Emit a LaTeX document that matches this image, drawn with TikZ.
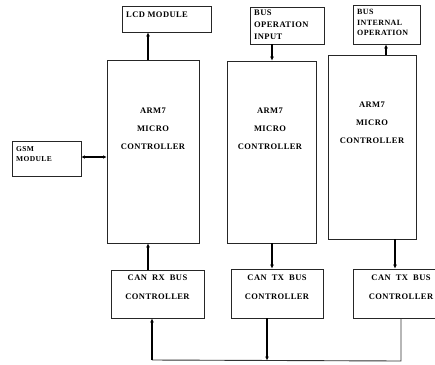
\documentclass[tikz,border=0pt]{standalone}
\usepackage{fontspec}
\setmainfont[LetterSpace=5]{Liberation Serif}
\usetikzlibrary{arrows.meta}
\begin{document}
\begin{tikzpicture}[x=1pt,y=-1pt,
  box/.style={draw=black!85,line width=0.8pt,inner sep=0pt,minimum width=#1},
  lbl/.style={inner sep=0pt,font=\bfseries\fontsize{8.5}{18}\selectfont,align=center},
  lbll/.style={inner sep=0pt,anchor=west,align=left},
  arr/.style={line width=1.2pt,-{Latex[length=4pt,width=4pt]}},
  dbl/.style={line width=1.2pt,{Latex[length=3.5pt,width=3.5pt]}-{Latex[length=3.5pt,width=3.5pt]}},
  busl/.style={line width=0.9pt,draw=black!80}]
\useasboundingbox (0,0) rectangle (435,364);
\clip (0,0) rectangle (435,364);
% boxes
\node[box=89pt,minimum height=26pt] (lcd) at (166.5,19) {};
\node[box=69pt,minimum height=35pt] (gsm) at (46.5,158.5) {};
\node[box=92pt,minimum height=183pt] (arm1) at (153,151.5) {};
\node[box=74pt,minimum height=37pt] (boi) at (287,25.5) {};
\node[box=89pt,minimum height=182pt] (arm2) at (271.5,152) {};
\node[box=67pt,minimum height=39pt] (bio) at (386.5,24.5) {};
\node[box=88pt,minimum height=184pt] (arm3) at (372,147) {};
\node[box=93pt,minimum height=48pt] (rx) at (157.5,294) {};
\node[box=92pt,minimum height=49pt] (tx1) at (277,293.5) {};
\node[box=96pt,minimum height=49pt] (tx2) at (401,293.5) {};
% texts
\node[lbll,font=\bfseries\fontsize{8.5}{10}\selectfont] (tlcd) at (126,15) {LCD MODULE};
\node[lbll,font=\bfseries\fontsize{7.5}{10}\selectfont] (tgsm) at (16,154) {GSM\\MODULE};
\node[lbll,font=\bfseries\fontsize{8.5}{12}\selectfont] (tboi) at (254,25) {BUS\\OPERATION\\INPUT};
\node[lbll,font=\bfseries\fontsize{8}{10.5}\selectfont] (tbio) at (357,22.5) {BUS\\INTERNAL\\OPERATION};
\node[lbl] (ta1) at (153,129) {ARM7\\MICRO\\CONTROLLER};
\node[lbl] (ta2) at (270,129) {ARM7\\MICRO\\CONTROLLER};
\node[lbl] (ta3) at (372,123) {ARM7\\MICRO\\CONTROLLER};
\node[lbl,font=\bfseries\fontsize{8.5}{19}\selectfont] (trx) at (157.5,287.5) {CAN\ \ RX\ \ BUS\\CONTROLLER};
\node[lbl,font=\bfseries\fontsize{8.5}{19}\selectfont] (ttx1) at (277,287.5) {CAN\ \ TX\ \ BUS\\CONTROLLER};
\node[lbl,font=\bfseries\fontsize{8.5}{19}\selectfont] (ttx2) at (401,287.5) {CAN\ \ TX\ \ BUS\\CONTROLLER};
% coordinates for connectors
\coordinate (c1) at (148,0);
\coordinate (c2) at (272,0);
\coordinate (c3) at (386,0);
\coordinate (c4) at (395,0);
\coordinate (bl) at (152,360);
\coordinate (bm) at (267,360.5);
\coordinate (br) at (401,361);
\coordinate (g) at (0,157);
% connectors
\draw[arr] (arm1.north -| c1) -- (lcd.south -| c1);
\draw[arr] (rx.north -| c1) -- (arm1.south -| c1);
\draw[dbl] (gsm.east |- g) -- (arm1.west |- g);
\draw[arr] (boi.south -| c2) -- (arm2.north -| c2);
\draw[arr] (arm2.south -| c2) -- (tx1.north -| c2);
\draw[arr] (arm3.north -| c3) -- (bio.south -| c3);
\draw[arr] (arm3.south -| c4) -- (tx2.north -| c4);
\draw[busl] (tx2.south -| br) -- (br) -- (bl);
\draw[arr] (bl) -- (rx.south -| bl);
\draw[arr] (tx1.south -| bm) -- (bm);
\end{tikzpicture}
\end{document}
